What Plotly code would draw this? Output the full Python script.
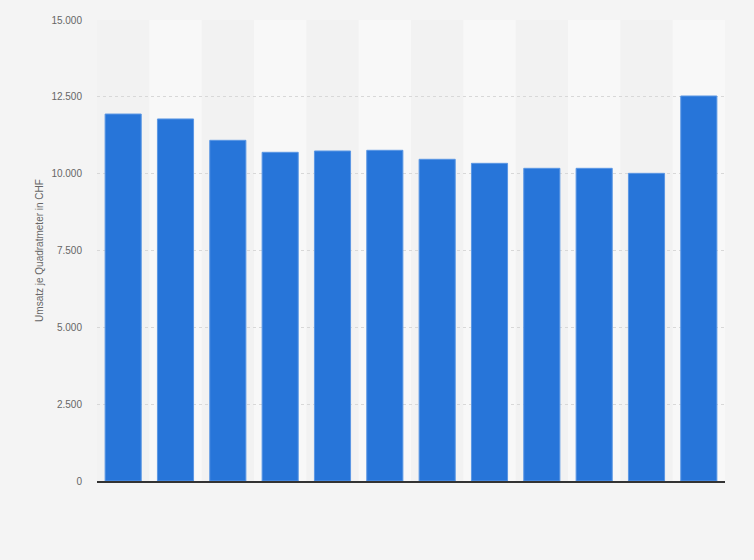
import plotly.graph_objects as go

# Umsatz je Quadratmeter in CHF (categories not labelled in the source)
categories = ["2008", "2009", "2010", "2011", "2012", "2013",
              "2014", "2015", "2016", "2017", "2018", "2019"]
umsatz = [11940, 11780, 11085, 10695, 10738, 10760,
          10467, 10336, 10174, 10174, 10011, 12527]

fig = go.Figure()
fig.add_trace(go.Bar(
    x=categories,
    y=umsatz,
    marker=dict(color="#2775d9", line=dict(color="#5b97e4", width=1)),
    width=0.69,
))

# alternating column bands in the plot area
shapes = []
for i in range(len(categories)):
    if i % 2 == 1:
        shapes.append(dict(type="rect", xref="x", yref="paper",
                           x0=i - 0.5, x1=i + 0.5, y0=0, y1=1,
                           fillcolor="#f8f8f8", line=dict(width=0), layer="below"))

fig.update_layout(
    width=754, height=560,
    margin=dict(l=97, r=29, t=20, b=79),
    paper_bgcolor="#f4f4f4",
    plot_bgcolor="#f2f2f2",
    separators=",.",
    showlegend=False,
    shapes=shapes,
    font=dict(family="Arial, Liberation Sans, sans-serif", size=10, color="#666666"),
)
fig.update_xaxes(
    showticklabels=False,
    showgrid=False,
    showline=True, linecolor="#333333", linewidth=1.5,
    range=[-0.5, len(categories) - 0.5],
)
fig.update_yaxes(
    range=[0, 15000],
    tickvals=[0, 2500, 5000, 7500, 10000, 12500, 15000],
    tickformat=",d",
    showgrid=True, gridcolor="#d8d8d8", griddash="dot", gridwidth=1,
    zeroline=False,
    ticks="", ticklabelstandoff=14,
    title=dict(text="Umsatz je Quadratmeter in CHF", standoff=5,
               font=dict(size=10, color="#666666")),
)

# drop the browser's default page margin so the chart fills the window
fig.write_html("out.html", config={"displayModeBar": False},
               post_script="document.body.style.margin='0';")
